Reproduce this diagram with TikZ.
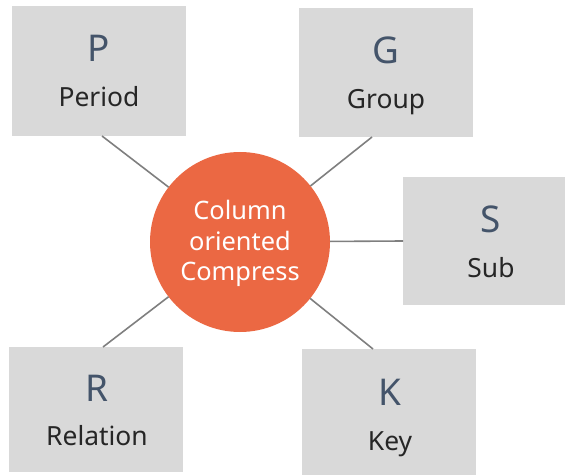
\documentclass[tikz,border=0pt]{standalone}
\usepackage{fontspec}
\setmainfont{Noto Sans}
\usetikzlibrary{calc}
\definecolor{boxgray}{HTML}{D9D9D9}
\definecolor{hub}{HTML}{EB6843}
\definecolor{lettercol}{HTML}{44546A}
\definecolor{wordcol}{HTML}{262626}
\definecolor{linkcol}{HTML}{7F7F7F}
\tikzset{
  box/.style={fill=boxgray, draw=none, rectangle, minimum width=174bp, inner sep=0pt, outer sep=0pt},
  letter/.style={text=lettercol, font=\fontsize{37}{40}\selectfont, anchor=base, inner sep=0pt},
  word/.style={text=wordcol, font=\fontsize{26.5}{30}\selectfont, anchor=base, inner sep=0pt},
  link/.style={draw=linkcol, line width=1.6bp},
  hubnode/.style={circle, fill=hub, draw=none, minimum size=180bp, inner sep=0pt, outer sep=0pt}
}
\begin{document}
\begin{tikzpicture}[x=1bp, y=-1bp]
\useasboundingbox (0,0) rectangle (565,476);
% boxes
\node[box, minimum height=130bp] (P) at (99,71) {};
\node[box, minimum height=129bp] (G) at (386,72.5) {};
\node[box, minimum height=128bp] (S) at (490,241) {};
\node[box, minimum height=125bp] (R) at (96,409.5) {};
\node[box, minimum height=126bp] (K) at (389,412) {};
% hub
\node[hubnode] (C) at (240,242) {};
% connector end points
\coordinate (pP) at ($(P.south)+(3,0)$);
\coordinate (pG) at ($(G.south)+(-14,0)$);
\coordinate (pS) at (S.west);
\coordinate (pR) at ($(R.north)+(7,0)$);
\coordinate (pK) at ($(K.north)+(-16,0)$);
\draw[link] (C) -- (pP);
\draw[link] (C) -- (pG);
\draw[link] (C) -- (pS);
\draw[link] (C) -- (pR);
\draw[link] (C) -- (pK);
% texts
\node[letter] (tP) at (99,62) {P};
\node[word] (wP) at (99,107) {Period};
\node[letter] (tG) at (386,64) {G};
\node[word] (wG) at (386,109) {Group};
\node[letter] (tS) at (491,233) {S};
\node[word] (wS) at (491,278) {Sub};
\node[letter] (tR) at (97,401) {R};
\node[word] (wR) at (97,445) {Relation};
\node[letter] (tK) at (390,405) {K};
\node[word] (wK) at (390,450) {Key};
\node[text=white, font=\fontsize{25.5}{30.5}\selectfont, anchor=base, inner sep=0pt] (h1) at (240,220) {Column};
\node[text=white, font=\fontsize{25.5}{30.5}\selectfont, anchor=base, inner sep=0pt] (h2) at (240,251) {oriented};
\node[text=white, font=\fontsize{25.5}{30.5}\selectfont, anchor=base, inner sep=0pt] (h3) at (240,281) {Compress};
\end{tikzpicture}
\end{document}
